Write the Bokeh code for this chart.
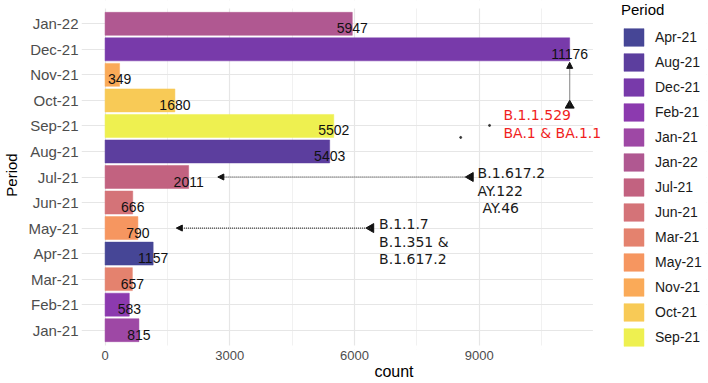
from bokeh.plotting import figure
from bokeh.models import (Range1d, FixedTicker, Legend, LegendItem, Label,
                          Arrow, NormalHead, ColumnDataSource, BoxAnnotation)
from bokeh.core.properties import value
from bokeh.embed import file_html
from bokeh.resources import INLINE

# ---- data ----
periods = ["Jan-21", "Feb-21", "Mar-21", "Apr-21", "May-21", "Jun-21", "Jul-21",
           "Aug-21", "Sep-21", "Oct-21", "Nov-21", "Dec-21", "Jan-22"]
counts = [815, 583, 657, 1157, 790, 666, 2011, 5403, 5502, 1680, 349, 11176, 5947]

legend_order = ["Apr-21", "Aug-21", "Dec-21", "Feb-21", "Jan-21", "Jan-22", "Jul-21",
                "Jun-21", "Mar-21", "May-21", "Nov-21", "Oct-21", "Sep-21"]
legend_colors = ["#464696", "#5c3e9e", "#783aaa", "#8c3aaf", "#9e48a5", "#b05891",
                 "#c26280", "#d47378", "#e4826e", "#f69660", "#faaa58", "#f8ca56",
                 "#eef050"]

x_ticks = [0, 3000, 6000, 9000]
x_minor = [1500, 4500, 7500, 10500]
x_panel_end = 11735          # right edge of the data panel
y_panel = (-0.6, 12.6)       # data panel extent in rows

# annotations (x in count units, y in row index units)
omicron_lines = ["B.1.1.529", "BA.1 & BA.1.1"]
omicron_x = 9583
omicron_y = [8.41, 7.71]
delta_lines = ["B.1.617.2", "AY.122", "AY.46"]
delta_x = [8961, 8961, 9080]
delta_y = [6.16, 5.44, 4.77]
alpha_lines = ["B.1.1.7", "B.1.351 &", "B.1.617.2"]
alpha_x = 6591
alpha_y = [4.17, 3.45, 2.77]

arrow_x0 = [11176, 8793, 6399]
arrow_y0 = [8.80, 6.0, 4.0]
arrow_x1 = [11176, 2712, 1714]
arrow_y1 = [10.49, 6.0, 4.0]
tri_angles = [0.0, 1.5708, 1.5708]

dots_x = [9248, 8554]
dots_y = [8.02, 7.55]

color_of = dict(zip(legend_order, legend_colors))
ys = list(range(len(periods)))

p = figure(width=708, height=383, output_backend="svg", toolbar_location=None,
           x_range=Range1d(-567, 14467), y_range=Range1d(-0.756, 12.913),
           min_border_left=78, min_border_right=2, min_border_top=0,
           min_border_bottom=34)
p.outline_line_color = None
p.background_fill_color = "white"
p.border_fill_color = "white"

# axes
p.xaxis.ticker = FixedTicker(ticks=x_ticks, minor_ticks=x_minor)
p.xaxis.axis_line_color = None
p.xaxis.major_tick_line_color = None
p.xaxis.minor_tick_line_color = None
p.xaxis.major_tick_out = 0
p.xaxis.minor_tick_out = 0
p.xaxis.major_label_standoff = 1
p.xaxis.major_label_text_font = "Liberation Sans"
p.xaxis.major_label_text_font_size = "13px"
p.xaxis.major_label_text_color = "#4d4d4d"
p.xaxis.axis_label = "count"
p.xaxis.axis_label_text_font = "Liberation Sans"
p.xaxis.axis_label_text_font_size = "16px"
p.xaxis.axis_label_text_font_style = "normal"
p.xaxis.axis_label_text_color = "#000000"
p.xaxis.axis_label_standoff = 0

p.yaxis.ticker = FixedTicker(ticks=ys)
p.yaxis.major_label_overrides = {i: per for i, per in enumerate(periods)}
p.yaxis.axis_line_color = None
p.yaxis.major_tick_line_color = None
p.yaxis.minor_tick_line_color = None
p.yaxis.major_tick_out = 0
p.yaxis.minor_tick_out = 0
p.yaxis.major_label_standoff = 3
p.yaxis.major_label_text_font = "Liberation Sans"
p.yaxis.major_label_text_font_size = "15px"
p.yaxis.major_label_text_color = "#4d4d4d"
p.yaxis.axis_label = "Period"
p.yaxis.axis_label_text_font = "Liberation Sans"
p.yaxis.axis_label_text_font_size = "15px"
p.yaxis.axis_label_text_font_style = "normal"
p.yaxis.axis_label_text_color = "#000000"
p.yaxis.axis_label_standoff = 5

p.xgrid.grid_line_color = "#e6e6e6"
p.xgrid.grid_line_width = 1.2
p.xgrid.minor_grid_line_color = "#eeeeee"
p.xgrid.minor_grid_line_width = 0.8
p.ygrid.grid_line_color = "#e6e6e6"
p.ygrid.grid_line_width = 1.2

# white areas outside the data panel
p.add_layout(BoxAnnotation(left=x_panel_end, fill_color="white", fill_alpha=1.0,
                           line_alpha=0))
p.add_layout(BoxAnnotation(bottom=y_panel[1], fill_color="white", fill_alpha=1.0,
                           line_alpha=0))
p.add_layout(BoxAnnotation(top=y_panel[0], fill_color="white", fill_alpha=1.0,
                           line_alpha=0))

# bars
items = []
for per in legend_order:
    i = periods.index(per)
    src = ColumnDataSource(dict(y=[i], right=[counts[i]]))
    r = p.hbar(y="y", left=0, right="right", height=0.9, source=src,
               fill_color=color_of[per], line_color=color_of[per], line_width=0.5)
    items.append(LegendItem(label=per, renderers=[r]))

# value labels
p.text(x=counts, y=ys, text=[str(c) for c in counts], text_align="center",
       text_baseline="middle", y_offset=4.5, text_font_size="14px",
       text_color="#111111", text_font=value("Liberation Sans"))

# arrows
for x0, y0, x1, y1 in zip(arrow_x0, arrow_y0, arrow_x1, arrow_y1):
    p.add_layout(Arrow(x_start=x0, y_start=y0, x_end=x1, y_end=y1,
                       line_color="#333333", line_width=1.2, line_dash="1 1",
                       end=NormalHead(size=6, fill_color="#111111",
                                      line_color="#111111", line_width=1)))
p.scatter(x=arrow_x0, y=arrow_y0, marker="triangle", size=9, angle=tri_angles,
          fill_color="#111111", line_color="#111111")
p.scatter(x=dots_x, y=dots_y, size=2, color="#333333")

# annotation texts
for t, yy in zip(omicron_lines, omicron_y):
    p.add_layout(Label(x=omicron_x, y=yy, text=t, text_align="left",
                       text_baseline="middle", text_font="DejaVu Sans",
                       text_font_size="14px", text_color="#f01e1e"))
for t, xx, yy in zip(delta_lines, delta_x, delta_y):
    p.add_layout(Label(x=xx, y=yy, text=t, text_align="left",
                       text_baseline="middle", text_font="DejaVu Sans",
                       text_font_size="14px", text_color="#1a1a1a"))
for t, yy in zip(alpha_lines, alpha_y):
    p.add_layout(Label(x=alpha_x, y=yy, text=t, text_align="left",
                       text_baseline="middle", text_font="DejaVu Sans",
                       text_font_size="14px", text_color="#1a1a1a"))

legend = Legend(items=items, location=(540, 1), title="Period",
                glyph_width=25, glyph_height=22, label_height=22, spacing=3,
                label_standoff=9, padding=0, margin=0,
                border_line_color=None, background_fill_alpha=0,
                title_text_font="Liberation Sans", title_text_font_size="15px",
                title_text_font_style="normal", title_text_color="#000000",
                title_standoff=8,
                label_text_font="Liberation Sans", label_text_font_size="14px",
                label_text_color="#1a1a1a")
p.add_layout(legend, "center")

open("out.html", "w").write(file_html(p, INLINE))
